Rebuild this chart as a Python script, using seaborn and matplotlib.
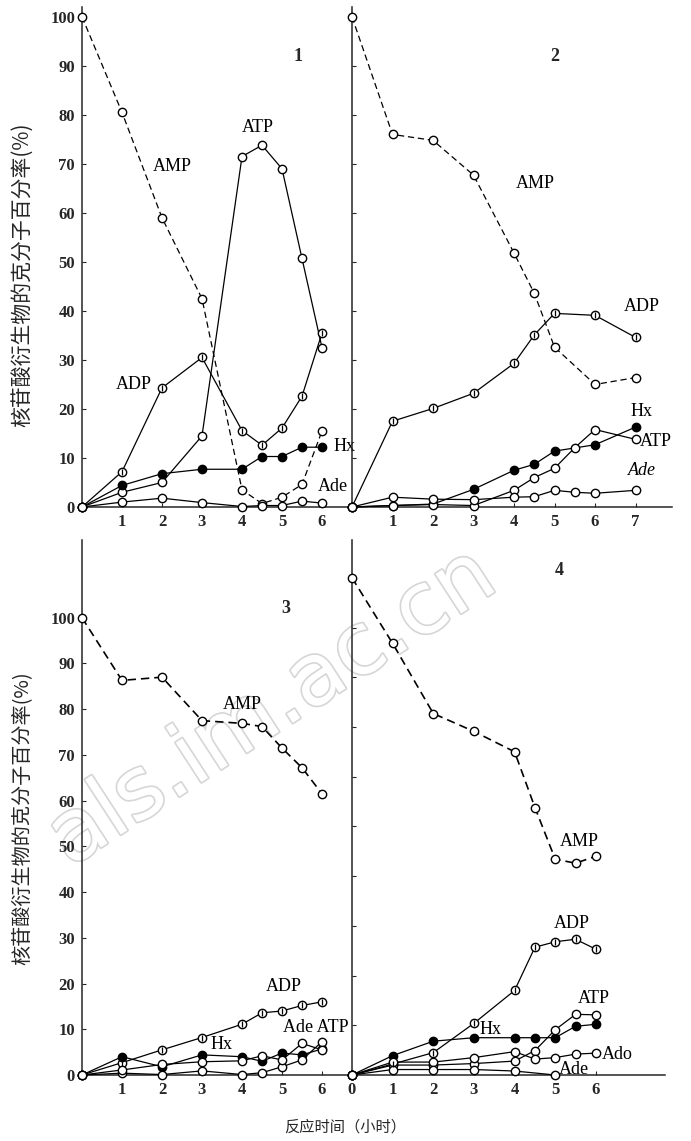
import matplotlib
matplotlib.use("Agg")
import matplotlib.pyplot as plt
import matplotlib.patheffects as pe
import seaborn as sns

sns.set_style("ticks")
plt.rcParams['font.family'] = ['Liberation Serif', 'DejaVu Serif']

# ---------------- data ----------------
# Panel 1
p1_x = [0, 1, 2, 3, 4, 4.5, 5, 5.5, 6]
p1_AMP = [100, 80.5, 59, 42.5, 3.5, 0.7, 2.0, 4.6, 15.5]
p1_ATP = [0, 3.0, 5.0, 14.5, 71.5, 73.8, 69, 50.7, 32.5]
p1_ADP = [0, 7.2, 24.3, 30.5, 15.6, 12.6, 16.1, 22.6, 35.5]
p1_Hx = [0, 4.4, 6.8, 7.7, 7.7, 10.3, 10.3, 12.2, 12.2]
p1_Ade = [0, 1.0, 1.8, 0.9, 0.1, 0.3, 0.3, 1.2, 0.8]

# Panel 2
p2_x = [0, 1, 2, 3, 4, 4.5, 5, 6, 7]
p2_AMP = [100, 76, 74.8, 67.7, 51.8, 43.6, 32.6, 25, 26.4]
p2_ADP = [0, 17.5, 20.1, 23.2, 29.3, 35.1, 39.5, 39.1, 34.6]
p2_Hx = [0, 0.3, 0.6, 3.6, 7.5, 8.7, 11.4, 12.7, 16.3]
p2_x2 = [0, 1, 2, 3, 4, 4.5, 5, 5.5, 6, 7]
p2_ATP = [0, 0.3, 0.5, 0.3, 3.4, 6.0, 7.9, 12.1, 15.8, 13.8]
p2_Ade = [0, 2.0, 1.6, 1.5, 2.0, 2.1, 3.4, 3.0, 2.8, 3.4]

# Panel 3
p3_x = [0, 1, 2, 3, 4, 4.5, 5, 5.5, 6]
p3_AMP = [100, 86.3, 87, 77.5, 76.9, 76.2, 71.5, 67.2, 61.5]
p3_ADP = [0, 2.7, 5.5, 8.2, 11.1, 13.6, 14.0, 15.2, 16.0]
p3_Hx = [0, 4.0, 1.8, 4.4, 4.0, 3.0, 4.8, 4.4, 5.7]
p3_ATP = [0, 0.4, 0.1, 0.9, 0.1, 0.5, 1.8, 3.3, 7.3]
p3_Ade = [0, 1.1, 2.3, 2.9, 3.1, 4.2, 3.3, 6.9, 5.5]

# Panel 4
p4_x = [0, 1, 2, 3, 4, 4.5, 5, 5.5, 6]
p4_AMP = [100, 86.8, 72.7, 69.1, 65, 53.8, 43.4, 42.6, 44]
p4_ADP = [0, 2.2, 4.5, 10.4, 17, 25.7, 26.8, 27.3, 25.3]
p4_Hx = [0, 3.9, 6.8, 7.5, 7.5, 7.5, 7.5, 9.8, 10.2]
p4_ATP = [0, 2.0, 2.0, 2.3, 2.8, 4.9, 9.1, 12.2, 12.1]
p4_Ado = [0, 2.6, 2.6, 3.5, 4.7, 3.2, 3.5, 4.2, 4.4]
p4_xAde = [0, 1, 2, 3, 4, 5]
p4_Ade = [0, 1.1, 1.1, 1.1, 0.8, 0.0]

y_ticks = [0, 10, 20, 30, 40, 50, 60, 70, 80, 90, 100]
ylabel_text = "核苷酸衍生物的克分子百分率(%)"
xlabel_text = "反应时间（小时）"
watermark_text = "als.im.ac.cn"

# ---------------- figure ----------------
W, H = 691, 1141
fig = plt.figure(figsize=(W / 100, H / 100), dpi=100)


def rect(left, right, bottom, top):
    return [left / W, 1 - bottom / H, (right - left) / W, (bottom - top) / H]


def draw(ax, x, y, kind="open", dashed=False, bar=False, lw=0.9):
    face = "black" if kind == "filled" else "white"
    kw = dict(color="black", lw=lw, marker="o", markersize=6,
              markerfacecolor=face, markeredgecolor="black",
              markeredgewidth=1.0, clip_on=False, errorbar=None,
              legend=False, zorder=3)
    if dashed:
        kw["linestyle"] = (0, (5, 3))
    sns.lineplot(x=x, y=y, ax=ax, **kw)
    if bar:
        ax.plot(x[1:], y[1:], ls="none", marker="|", markersize=5,
                color="black", mew=0.9, clip_on=False, zorder=4)


def style(ax, xmax, ymax, xticks, ylabels):
    ax.set_facecolor("none")
    ax.set_xlim(0, xmax)
    ax.set_ylim(0, ymax)
    sns.despine(ax=ax)
    ax.spines["left"].set_linewidth(1.1)
    ax.spines["bottom"].set_linewidth(1.1)
    ax.set_xticks(xticks)
    ax.set_xticklabels([str(t) for t in xticks], fontsize=12, fontweight="bold")
    ax.set_yticks(y_ticks)
    if ylabels:
        ax.set_yticklabels([str(t) for t in y_ticks], fontsize=12, fontweight="bold")
    else:
        ax.set_yticklabels([])
    ax.tick_params(axis="both", direction="in", length=3, width=0.8, pad=5)
    ax.set_xlabel("")
    ax.set_ylabel("")


tk = dict(fontsize=13, color="black")

# Panel 1
ax1 = fig.add_axes(rect(82, 350, 507, 7))
draw(ax1, p1_x, p1_AMP, dashed=True)
draw(ax1, p1_x, p1_ATP)
draw(ax1, p1_x, p1_ADP, bar=True)
draw(ax1, p1_x, p1_Hx, kind="filled")
draw(ax1, p1_x, p1_Ade)
style(ax1, 6.7, 102, [1, 2, 3, 4, 5, 6], True)
ax1.text(5.4, 91, "1", fontsize=13, fontweight="bold", ha="center")
ax1.text(4.4, 76.5, "ATP", ha="center", **tk)
ax1.text(2.25, 68.5, "AMP", ha="center", **tk)
ax1.text(1.3, 24, "ADP", ha="center", **tk)
ax1.text(6.3, 11.5, "Hx", ha="left", **tk)
ax1.text(5.9, 3.2, "Ade", ha="left", **tk)

# Panel 2
ax2 = fig.add_axes(rect(352, 672, 507, 7))
draw(ax2, p2_x, p2_AMP, dashed=True)
draw(ax2, p2_x, p2_ADP, bar=True)
draw(ax2, p2_x, p2_Hx, kind="filled")
draw(ax2, p2_x2, p2_ATP)
draw(ax2, p2_x2, p2_Ade)
style(ax2, 7.9, 102, [1, 2, 3, 4, 5, 6, 7], False)
ax2.text(5.0, 91, "2", fontsize=13, fontweight="bold", ha="center")
ax2.text(4.05, 65, "AMP", ha="left", **tk)
ax2.text(6.7, 40, "ADP", ha="left", **tk)
ax2.text(7.15, 18.5, "Hx", ha="center", **tk)
ax2.text(7.1, 12.5, "ATP", ha="left", **tk)
ax2.text(7.15, 6.5, "Ade", ha="center", style="italic", **tk)

# Panel 3
ax3 = fig.add_axes(rect(82, 350, 1075, 540))
draw(ax3, p3_x, p3_AMP, dashed=True, lw=1.2)
draw(ax3, p3_x, p3_ADP, bar=True)
draw(ax3, p3_x, p3_Hx, kind="filled")
draw(ax3, p3_x, p3_ATP)
draw(ax3, p3_x, p3_Ade)
style(ax3, 6.7, 117, [1, 2, 3, 4, 5, 6], True)
ax3.text(5.1, 101, "3", fontsize=13, fontweight="bold", ha="center")
ax3.text(4.0, 80, "AMP", ha="center", **tk)
ax3.text(5.05, 18.3, "ADP", ha="center", **tk)
ax3.text(5.85, 9.5, "Ade ATP", ha="center", **tk)
ax3.text(3.5, 5.6, "Hx", ha="center", **tk)

# Panel 4
ax4 = fig.add_axes(rect(352, 665, 1075, 540))
draw(ax4, p4_x, p4_AMP, dashed=True, lw=1.2)
draw(ax4, p4_x, p4_ADP, bar=True)
draw(ax4, p4_x, p4_Hx, kind="filled")
draw(ax4, p4_x, p4_ATP)
draw(ax4, p4_x, p4_Ado)
draw(ax4, p4_xAde, p4_Ade)
style(ax4, 7.7, 107.6, [0, 1, 2, 3, 4, 5, 6], False)
ax4.text(5.1, 100.5, "4", fontsize=13, fontweight="bold", ha="center")
ax4.text(5.6, 46, "AMP", ha="center", **tk)
ax4.text(5.4, 29.5, "ADP", ha="center", **tk)
ax4.text(5.95, 14.5, "ATP", ha="center", **tk)
ax4.text(3.4, 8.3, "Hx", ha="center", **tk)
ax4.text(6.15, 3.3, "Ado", ha="left", **tk)
ax4.text(5.1, 0.3, "Ade", ha="left", **tk)

# axis titles
cjk = ['Noto Sans CJK SC', 'DejaVu Sans']
fig.text(22 / W, 1 - 275 / H, ylabel_text, rotation=90, ha="center", va="center",
         fontsize=15, family=cjk)
fig.text(22 / W, 1 - 818 / H, ylabel_text, rotation=90, ha="center", va="center",
         fontsize=14.5, family=cjk)
fig.text(345 / W, 1 - 1127 / H, xlabel_text, ha="center", va="center",
         fontsize=11, family=cjk)

# faint watermark
fig.text(488 / W, 1 - 568 / H, watermark_text, rotation=33,
         rotation_mode="anchor", ha="right", va="center", fontsize=62,
         family=['DejaVu Sans'], color="white", zorder=-1,
         path_effects=[pe.withStroke(linewidth=2.4, foreground="#d6d6d6")])

fig.savefig("out.png", dpi=100, facecolor="white")
